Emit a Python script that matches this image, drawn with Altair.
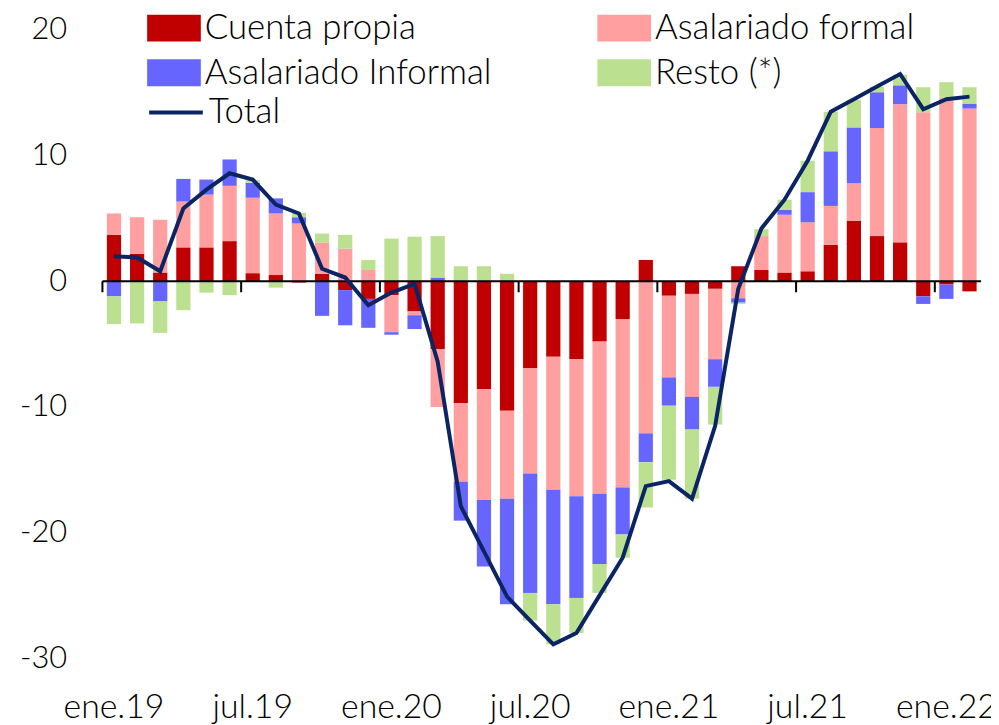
import altair as alt
import pandas as pd

meses = ["ene", "feb", "mar", "abr", "may", "jun", "jul", "ago", "sep", "oct", "nov", "dic"]
periodos = [f"{m}.{a}" for a in ["19", "20", "21"] for m in meses] + ["ene.22", "feb.22"]

cuenta_propia = [3.7, 2.2, 0.7, 2.7, 2.7, 3.2, 0.65, 0.5, -0.1, 0.6,
                 -0.7, -1.4, -1.1, -2.4, -5.4, -9.7, -8.6, -10.3, -6.9, -6.0,
                 -6.2, -4.8, -3.0, 1.7, -1.15, -1.0, -0.6, 1.2, 0.9, 0.7,
                 0.8, 2.9, 4.8, 3.6, 3.1, -1.2, -0.25, -0.8]
asal_formal = [1.7, 2.9, 4.2, 3.65, 4.2, 4.4, 6.0, 4.9, 4.6, 2.5,
               2.6, 0.9, -2.95, -0.3, -4.6, -6.25, -8.8, -7.0, -8.4, -10.6,
               -10.9, -12.1, -13.4, -12.1, -6.5, -8.2, -5.6, -1.35, 2.7, 4.6,
               3.9, 3.1, 3.0, 8.6, 11.0, 13.45, 14.6, 13.75]
asal_informal = [-1.2, -0.05, -1.6, 1.8, 1.2, 2.1, 1.2, 1.2, 0.5, -2.75,
                 -2.8, -2.3, -0.2, -1.1, 0.3, -3.1, -5.3, -8.4, -9.5, -9.1,
                 -8.1, -5.6, -3.75, -2.3, -2.25, -2.6, -2.2, -0.35, 0.0, 0.4,
                 2.4, 4.35, 4.45, 2.85, 1.5, -0.6, -1.15, 0.4]
resto = [-2.2, -3.3, -2.5, -2.3, -0.9, -1.1, 0.2, -0.5, 0.35, 0.7,
         1.1, 0.8, 3.4, 3.55, 3.3, 1.2, 1.2, 0.6, -2.2, -3.2,
         -2.8, -2.3, -1.85, -3.6, -5.9, -5.5, -3.0, -0.1, 0.55, 0.8,
         2.5, 3.15, 2.2, 0.45, 0.85, 2.0, 1.25, 1.3]
total = [2.0, 1.9, 0.8, 5.8, 7.3, 8.6, 8.1, 6.1, 5.4, 1.0,
         0.3, -1.9, -0.9, -0.2, -6.4, -17.9, -21.5, -25.1, -27.0, -28.9,
         -28.0, -25.0, -22.0, -16.3, -15.9, -17.3, -11.5, -0.6, 4.2, 6.5,
         9.6, 13.5, 14.5, 15.5, 16.5, 13.7, 14.5, 14.7]

series = ["Cuenta propia", "Asalariado formal", "Asalariado Informal", "Resto (*)"]
colores = ["#C00000", "#FF9F9F", "#6666FF", "#BBE08F"]
# legend is filled column by column: this order gives rows
# (Cuenta propia, Asalariado formal) / (Asalariado Informal, Resto (*))
orden_leyenda = [0, 2, 1, 3]
etiquetas_x = ["ene.19", "jul.19", "ene.20", "jul.20", "ene.21", "jul.21", "ene.22"]
valores_y = [-30, -20, -10, 0, 10, 20]
color_total = "#0B2463"

FONT = "Lato"
W, H = 884, 632

filas = []
for i, p in enumerate(periodos):
    for k, (s, vals) in enumerate(zip(series, [cuenta_propia, asal_formal, asal_informal, resto])):
        filas.append({"periodo": p, "serie": s, "valor": vals[i], "orden": k})
df_barras = pd.DataFrame(filas)
df_total = pd.DataFrame({"periodo": periodos, "total": total, "serie": ["Total"] * len(periodos)})
df_cero = pd.DataFrame({"v": [0]})
df_marcas = pd.DataFrame({"periodo": periodos[0::6], "v": [0] * len(periodos[0::6])})

x_scale = alt.Scale(domain=periodos, paddingInner=0.385, paddingOuter=0.1925)
y_scale = alt.Scale(domain=[-30, 20], nice=False, zero=False)

x_axis = alt.Axis(values=etiquetas_x, title=None, ticks=False, domain=False, grid=False,
                  labelAngle=0, labelFont=FONT, labelFontSize=34, labelFontWeight=300,
                  labelColor="#000000", labelPadding=33)
y_axis = alt.Axis(values=valores_y, title=None, ticks=False, domain=False, grid=False,
                  labelExpr="'' + datum.value",
                  labelFont=FONT, labelFontSize=31, labelFontWeight=300,
                  labelColor="#000000", labelPadding=36)

barras = alt.Chart(df_barras).mark_bar(opacity=1).encode(
    x=alt.X("periodo:N", scale=x_scale, axis=x_axis, sort=periodos),
    y=alt.Y("valor:Q", scale=y_scale, axis=y_axis, stack="zero"),
    color=alt.Color("serie:N",
                    scale=alt.Scale(domain=[series[i] for i in orden_leyenda],
                                    range=[colores[i] for i in orden_leyenda]),
                    legend=alt.Legend(orient="none", legendX=45, legendY=-29, columns=2,
                                      columnPadding=106, rowPadding=-4, title=None,
                                      symbolType="M-1,-0.5H1V0.5H-1Z", symbolSize=2916,
                                      symbolStrokeWidth=0, symbolOpacity=1, labelOffset=4,
                                      labelFont=FONT, labelFontSize=35, labelFontWeight=300,
                                      labelColor="#000000", labelLimit=600)),
    order=alt.Order("orden:Q"),
)

linea_cero = alt.Chart(df_cero).mark_rule(color="#000000", strokeWidth=2).encode(
    y=alt.Y("v:Q", scale=y_scale), x=alt.value(0), x2=alt.value(W))

marcas = alt.Chart(df_marcas).mark_rule(color="#000000", strokeWidth=2, xOffset=-4.48, y2Offset=11).encode(
    x=alt.X("periodo:N", scale=x_scale, sort=periodos, bandPosition=0),
    y=alt.Y("v:Q", scale=y_scale), y2=alt.Y2("v"))

linea = alt.Chart(df_total).mark_line(strokeWidth=4).encode(
    x=alt.X("periodo:N", scale=x_scale, sort=periodos),
    y=alt.Y("total:Q", scale=y_scale),
    stroke=alt.Stroke("serie:N", scale=alt.Scale(domain=["Total"], range=[color_total]),
                      legend=alt.Legend(orient="none", legendX=45, legendY=54, title=None,
                                        symbolType="stroke", symbolSize=2916, symbolStrokeWidth=4,
                                        labelOffset=4, labelFont=FONT, labelFontSize=35,
                                        labelFontWeight=300, labelColor="#000000")),
)

chart = alt.layer(barras, linea_cero, marcas, linea).properties(
    width=W, height=H,
    autosize=alt.AutoSizeParams(type="none"),
    padding={"left": 95, "top": 20, "right": 10, "bottom": 64},
).configure_view(stroke=None).resolve_scale(color="independent", stroke="independent")

chart.save("out.html", embed_options={"renderer": "svg", "actions": False})
